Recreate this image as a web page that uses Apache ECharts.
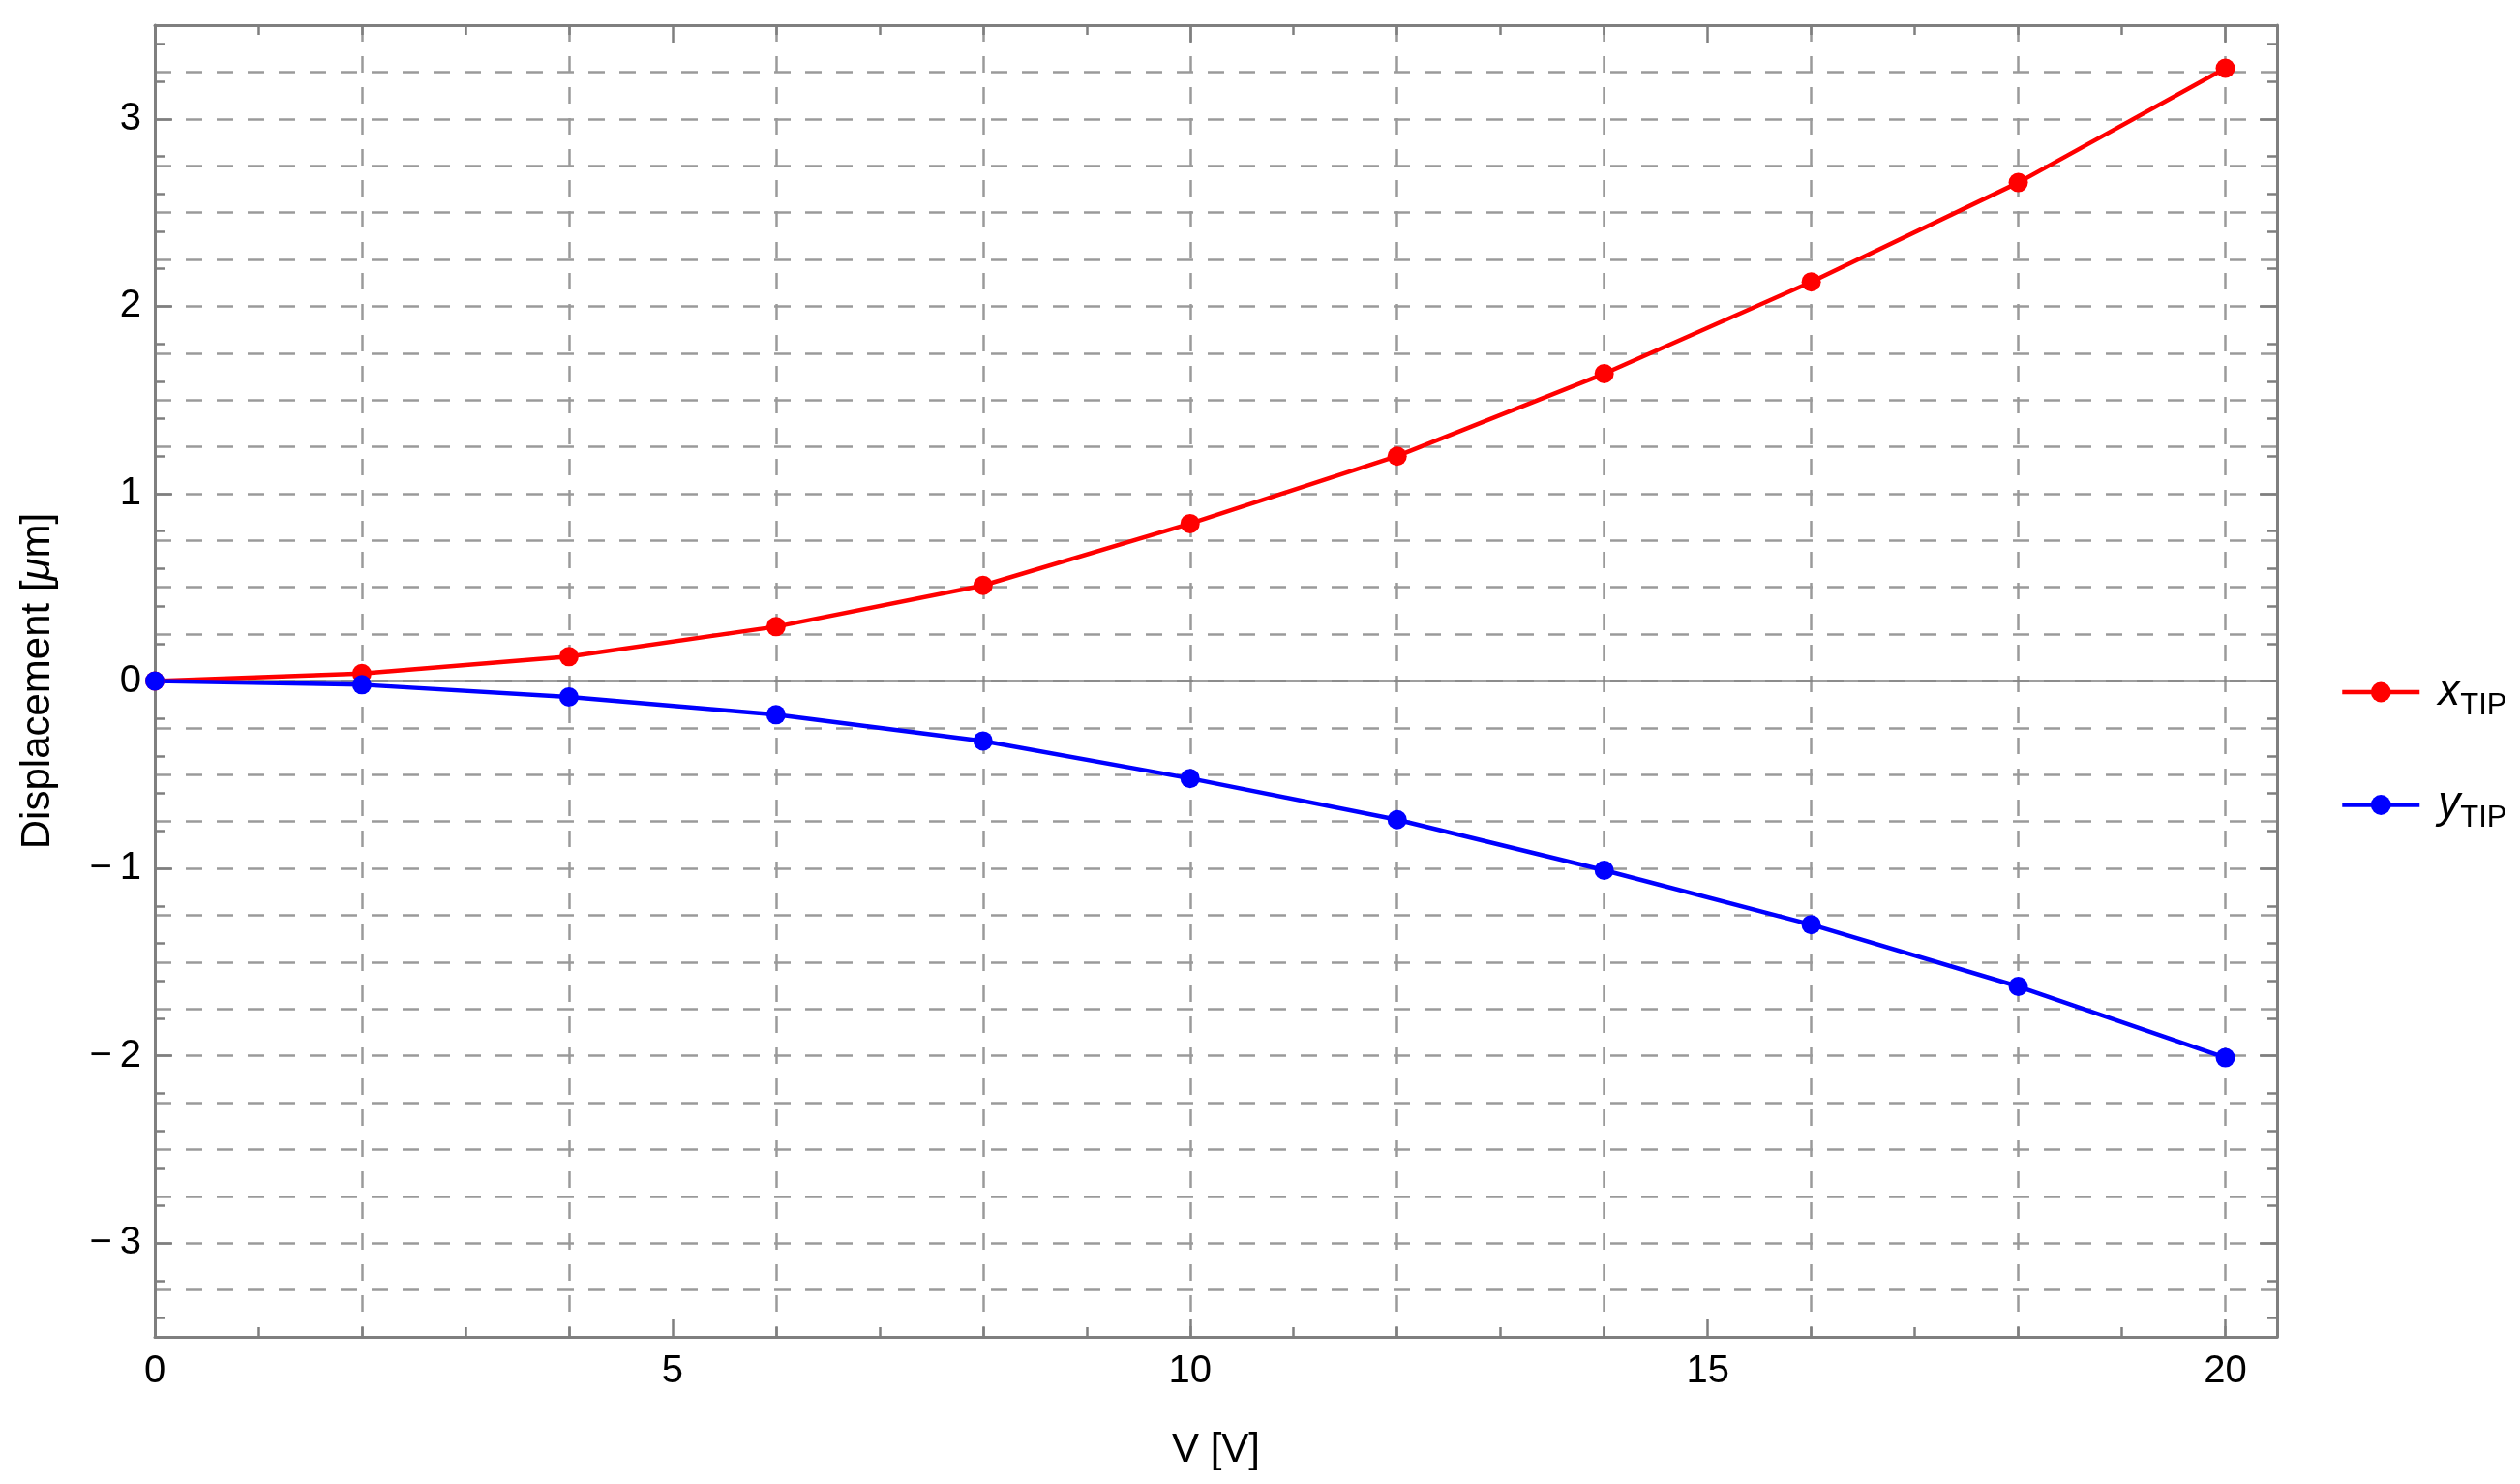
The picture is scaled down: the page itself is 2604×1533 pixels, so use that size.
<!DOCTYPE html>
<html>
<head>
<meta charset="utf-8">
<style>
  html, body { margin: 0; padding: 0; background: #ffffff; }
  #chart { width: 2604px; height: 1533px; }
</style>
<script src="https://cdn.jsdelivr.net/npm/echarts@6/dist/echarts.min.js"></script>
</head>
<body>
<div id="chart"></div>
<script>
// ---- data ----
const voltages = [0, 2, 4, 6, 8, 10, 12, 14, 16, 18, 20];
const xTip = [0, 0.04, 0.13, 0.29, 0.51, 0.84, 1.20, 1.64, 2.13, 2.66, 3.27];
const yTip = [0, -0.02, -0.085, -0.18, -0.32, -0.52, -0.74, -1.01, -1.30, -1.63, -2.01];

// ---- ticks ----
const xMajorTicks = [0, 5, 10, 15, 20];
const xMinorTicks = [1, 2, 3, 4, 6, 7, 8, 9, 11, 12, 13, 14, 16, 17, 18, 19];
const yMajorTicks = [-3, -2, -1, 0, 1, 2, 3];
const yMinorTicks = [-3.4, -3.2, -2.8, -2.6, -2.4, -2.2, -1.8, -1.6, -1.4, -1.2,
                     -0.8, -0.6, -0.4, -0.2, 0.2, 0.4, 0.6, 0.8, 1.2, 1.4, 1.6, 1.8,
                     2.2, 2.4, 2.6, 2.8, 3.2, 3.4];
const xRange = [0, 20.5];
const yRange = [-3.5, 3.5];

const FONT = "'Liberation Sans', Arial, sans-serif";
const FRAME = '#7f7f7f';
const GRID = '#9a9a9a';

function fmtNum(v) {
  return v < 0 ? '\u2212\u2009' + (-v) : String(v);
}

function tickAxis(kind, pos, values, len, withLabel, extra) {
  const base = {
    type: 'value',
    position: pos,
    min: kind === 'x' ? xRange[0] : yRange[0],
    max: kind === 'x' ? xRange[1] : yRange[1],
    interval: kind === 'x' ? 5 : 0.5,
    axisLine: { show: false, onZero: false },
    axisTick: { show: true, inside: true, length: len, customValues: values,
                lineStyle: { color: FRAME, width: 2.5 } },
    axisLabel: { show: false },
    splitLine: { show: false },
    minorTick: { show: false },
    minorSplitLine: { show: false }
  };
  if (withLabel) {
    base.axisLabel = {
      show: true, customValues: values,
      formatter: fmtNum,
      color: '#000', fontSize: 40, fontFamily: FONT,
      margin: kind === 'x' ? 16 : 14,
      showMinLabel: true, showMaxLabel: true
    };
  }
  return Object.assign(base, extra || {});
}

const xAxes = [
  tickAxis('x', 'bottom', xMajorTicks, 18, true, {
    axisLine: { show: true, onZero: false, lineStyle: { color: FRAME, width: 3 } },
    name: 'V [V]', nameLocation: 'middle', nameGap: 96,
    nameTextStyle: { fontSize: 42, fontFamily: FONT, color: '#000' }
  }),
  tickAxis('x', 'top', xMajorTicks, 18, false, {
    axisLine: { show: true, onZero: false, lineStyle: { color: FRAME, width: 3 } }
  }),
  tickAxis('x', 'bottom', xMinorTicks, 10, false),
  tickAxis('x', 'top', xMinorTicks, 10, false),
  {
    type: 'value', position: 'bottom', min: xRange[0], max: xRange[1], interval: 2,
    axisLine: { show: true, onZero: true, onZeroAxisIndex: 0,
                lineStyle: { color: '#808080', width: 2.5 } },
    axisTick: { show: false }, axisLabel: { show: false },
    splitLine: { show: true, showMinLine: false, showMaxLine: false,
                 lineStyle: { color: GRID, width: 2.5, type: [17, 15] } }
  }
];

const yAxes = [
  tickAxis('y', 'left', yMajorTicks, 18, true, {
    axisLine: { show: true, onZero: false, lineStyle: { color: FRAME, width: 3 } },
    name: '{n|Displacement [}{m|\u03bc}{n|m]}', nameLocation: 'middle', nameGap: 100,
    nameTextStyle: { fontSize: 42, fontFamily: FONT, color: '#000',
      rich: {
        n: { fontSize: 42, fontFamily: FONT, color: '#000' },
        m: { fontSize: 42, fontFamily: FONT, color: '#000', fontStyle: 'italic' }
      } }
  }),
  tickAxis('y', 'right', yMajorTicks, 18, false, {
    axisLine: { show: true, onZero: false, lineStyle: { color: FRAME, width: 3 } }
  }),
  tickAxis('y', 'left', yMinorTicks, 10, false),
  tickAxis('y', 'right', yMinorTicks, 10, false),
  {
    type: 'value', position: 'left', min: yRange[0], max: yRange[1], interval: 0.25,
    axisLine: { show: false, onZero: false },
    axisTick: { show: false }, axisLabel: { show: false },
    splitLine: { show: true, showMinLine: false, showMaxLine: false,
                 lineStyle: { color: GRID, width: 2.5, type: [17, 15] } }
  }
];

function pairs(ys) { return voltages.map((v, i) => [v, ys[i]]); }

const chart = echarts.init(document.getElementById('chart'), null, { renderer: 'canvas' });
chart.setOption({
  animation: false,
  backgroundColor: '#ffffff',
  grid: { left: 160, right: 251, top: 26, bottom: 152, containLabel: false, show: false },
  xAxis: xAxes,
  yAxis: yAxes,
  legend: {
    orient: 'vertical',
    left: 2413, top: 687,
    itemWidth: 80, itemHeight: 26, itemGap: 64,
    data: ['x', 'y'],
    lineStyle: { width: 4.5 },
    formatter: function (name) { return '{i|' + name + '}{s|TIP}'; },
    textStyle: {
      fontFamily: FONT, color: '#000',
      rich: {
        i: { fontSize: 46, fontStyle: 'italic', fontFamily: FONT, color: '#000', padding: [0, 0, 0, 14] },
        s: { fontSize: 31, fontFamily: FONT, color: '#000', padding: [28, 0, 0, 0] }
      }
    }
  },
  series: [
    {
      name: 'x', type: 'line', xAxisIndex: 0, yAxisIndex: 0,
      data: pairs(xTip),
      symbol: 'circle', symbolSize: 20, showSymbol: true,
      lineStyle: { color: '#ff0000', width: 4.5 },
      itemStyle: { color: '#ff0000' },
      z: 5
    },
    {
      name: 'y', type: 'line', xAxisIndex: 0, yAxisIndex: 0,
      data: pairs(yTip),
      symbol: 'circle', symbolSize: 20, showSymbol: true,
      lineStyle: { color: '#0000ff', width: 4.5 },
      itemStyle: { color: '#0000ff' },
      z: 5
    }
  ]
});
</script>
</body>
</html>
